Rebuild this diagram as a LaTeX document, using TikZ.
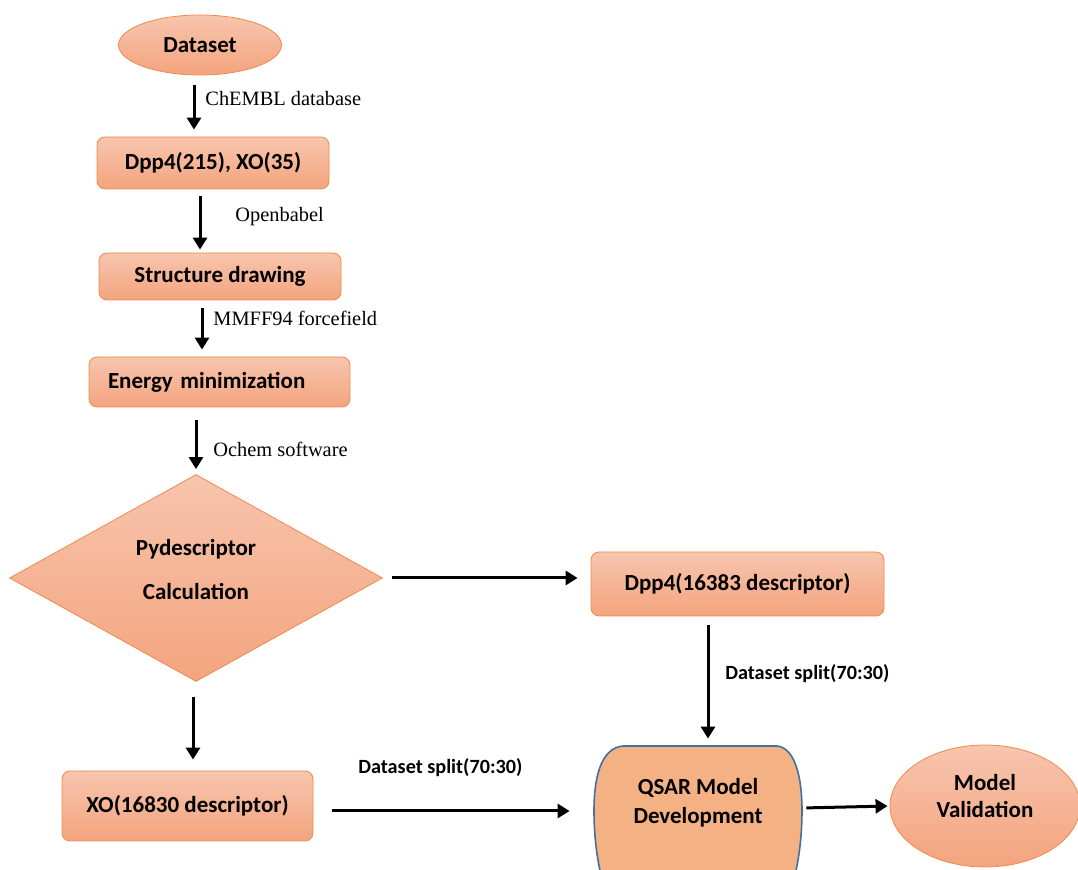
\documentclass[tikz,border=0pt]{standalone}
\usepackage{fontspec}
\setmainfont{Liberation Serif}
\newfontfamily\boxfont{Carlito}
\usetikzlibrary{arrows.meta,shapes.geometric,positioning}
\definecolor{salmontop}{HTML}{F7C5AE}
\definecolor{salmonbot}{HTML}{F4A47E}
\definecolor{edgeorange}{HTML}{EE8A4E}
\definecolor{qsarfill}{HTML}{F4B183}
\definecolor{qsaredge}{HTML}{41719C}

\begin{document}
\begin{tikzpicture}[
	x=0.5pt, y=-0.5pt,
	boxtext/.style={font=\boxfont\bfseries\fontsize{11.5}{13.5}\selectfont, align=center, inner sep=0pt},
	procbox/.style={boxtext, rectangle, rounded corners=4pt, draw=edgeorange, top color=salmontop, bottom color=salmonbot},
	termbox/.style={boxtext, ellipse, draw=edgeorange, top color=salmontop, bottom color=salmonbot},
	decidebox/.style={boxtext, diamond, draw=edgeorange, top color=salmontop, bottom color=salmonbot},
	arr/.style={-{Triangle[length=6pt,width=7pt]}, line width=1.5pt},
	note/.style={font=\fontsize{10.2}{12}\selectfont, anchor=west, inner sep=0pt},
	splitnote/.style={font=\boxfont\bfseries\fontsize{10.1}{12}\selectfont, anchor=west, inner sep=0pt}
	]
	
	\useasboundingbox (0,0) rectangle (1078,870);
	
	% --- left column ---
	\node[termbox, minimum width=81.5pt, minimum height=30pt] (dataset) at (200,45) {Dataset};
	\node[procbox, minimum width=116pt, minimum height=26pt] (dpp) at (213,163) {Dpp4(215), XO(35)};
	\node[procbox, minimum width=121pt, minimum height=23.5pt] (struct) at (220,276.5) {Structure drawing};
	\node[procbox, minimum width=130.5pt, minimum height=25pt, text width=111.5pt, align=left] (energy) at (219.5,382) {Energy minimization};
	\node[decidebox, minimum width=186.5pt, minimum height=103.5pt] (calc) at (196,578) {};
	\node[boxtext] (calctext) at (196,570) {Pydescriptor\\[8.5pt]Calculation};
	\node[procbox, minimum width=125.5pt, minimum height=35pt] (xo) at (187.5,806) {XO(16830 descriptor)};
	
	% --- right part ---
	\node[procbox, minimum width=146.5pt, minimum height=32pt] (dppdesc) at (737.5,584) {Dpp4(16383 descriptor)};
	\begin{scope}
		\clip (0,0) rectangle (1078,870);
		\draw[draw=qsaredge, fill=qsarfill, line width=0.8pt] (623,746) -- (777,746)
		.. controls (796,748) and (802,780) .. (802,810)
		.. controls (802,845) and (797,870) .. (790,895) -- (606,895)
		.. controls (599,870) and (594,845) .. (594,810)
		.. controls (594,780) and (600,748) .. (623,746) -- cycle;
	\end{scope}
	\node[boxtext, minimum width=104pt, minimum height=56pt] (qsar) at (698,803) {QSAR Model\\[1pt]Development};
	\node[termbox, minimum width=95pt, minimum height=61pt] (valid) at (985,806) {};
	\node[boxtext] (validtext) at (985,796) {Model\\[0pt]Validation};
	
	% --- arrows ---
	\draw[arr, shorten <=5pt, shorten >=3.5pt] ([xshift=-3pt]dataset.south) -- ([xshift=-3pt]dataset.south |- dpp.north);
	\draw[arr, shorten <=3.5pt, shorten >=1.5pt] ([xshift=-6.5pt]dpp.south) -- ([xshift=-6.5pt]dpp.south |- struct.north);
	\draw[arr, shorten <=4pt, shorten >=3.5pt] ([xshift=-9pt]struct.south) -- ([xshift=-9pt]struct.south |- energy.north);
	\draw[arr, shorten <=6.5pt, shorten >=2.5pt] (calc.north |- energy.south) -- (calc.north);
	\draw[arr, shorten <=4.5pt, shorten >=6.5pt] (calc.east) -- (calc.east -| dppdesc.west);
	\draw[arr, shorten <=4.5pt, shorten >=4pt] ([xshift=-14.75pt]dppdesc.south) -- ([xshift=-14.75pt]dppdesc.south |- qsar.north);
	\draw[arr, shorten <=7.5pt, shorten >=5.5pt] ([xshift=-1.5pt]calc.south) -- ([xshift=-1.5pt]calc.south |- xo.north);
	\draw[arr, shorten <=9.5pt, shorten >=12pt] ([yshift=-2.5pt]xo.east) -- ([yshift=-2.5pt]xo.east -| qsar.west);
	\draw[arr, shorten <=2pt, shorten >=1pt] ([yshift=-2.5pt]qsar.east) -- (valid.west);
	
	% --- labels ---
	\node[note] (lchembl) at (205,99) {ChEMBL database};
	\node[note] (lbabel) at (235,217) {Openbabel};
	\node[note] (lmmff) at (213,318) {MMFF94 forcefield};
	\node[note] (lochem) at (213,449) {Ochem software};
	\node[splitnote] (lsplitr) at (725,674) {Dataset split(70:30)};
	\node[splitnote] (lsplitl) at (358,768) {Dataset split(70:30)};
	
\end{tikzpicture}
\end{document}
